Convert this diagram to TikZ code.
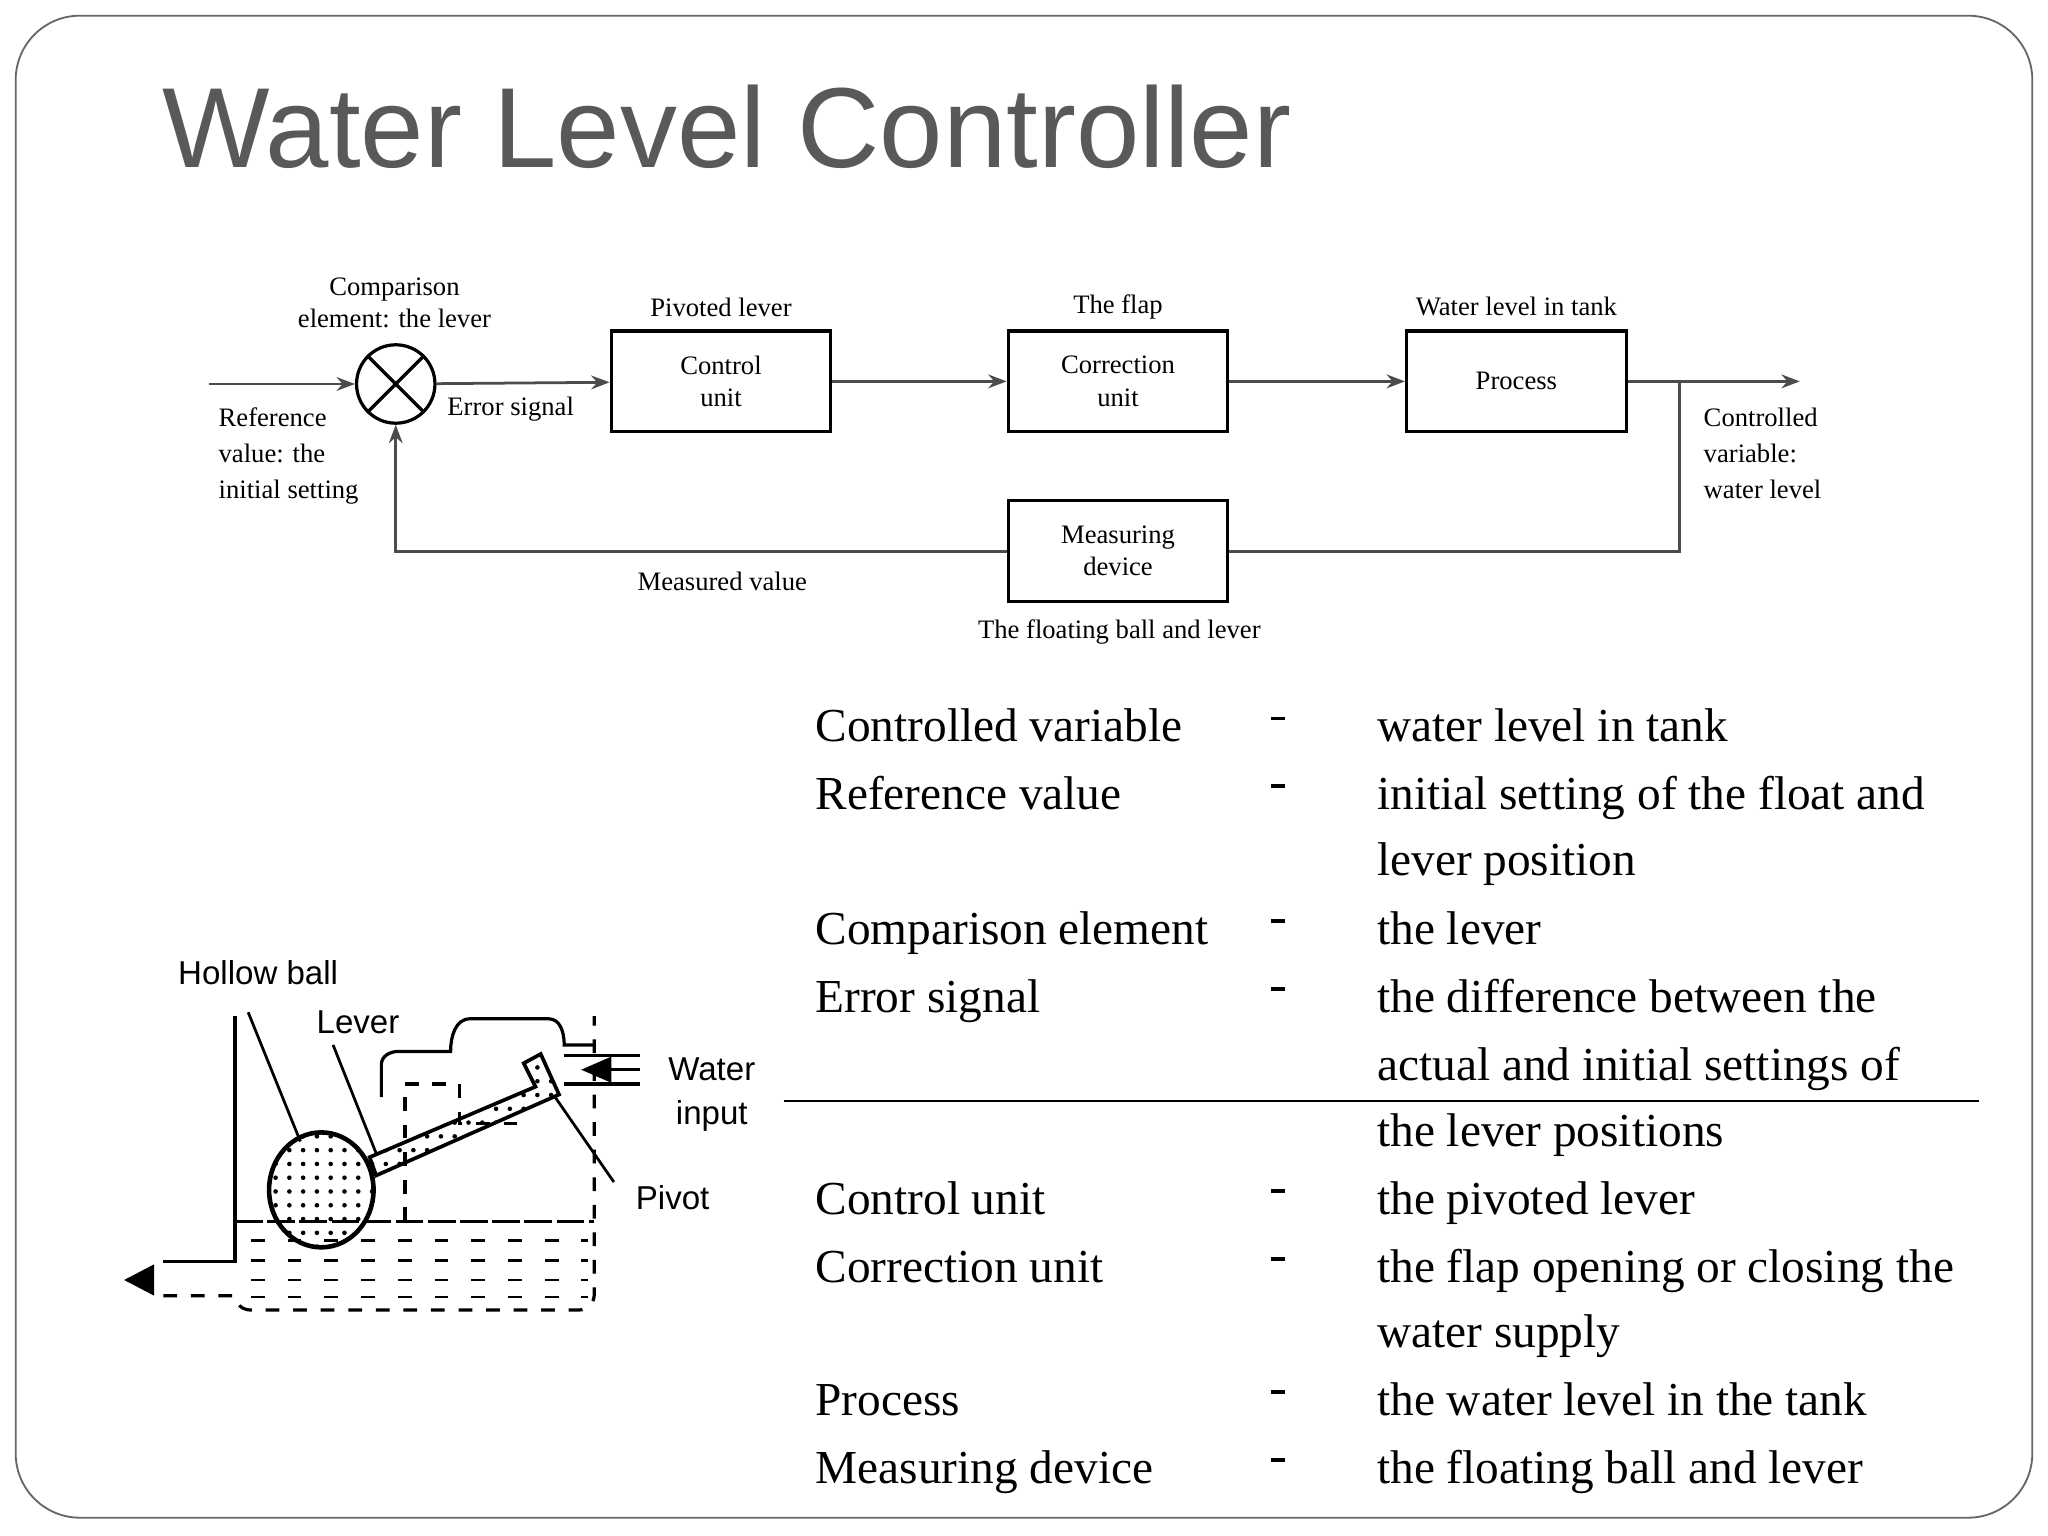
\documentclass[tikz,border=0pt]{standalone}
\usepackage{fontspec}
\setmainfont{Liberation Serif}
\newfontfamily\titlefont{Liberation Sans}
\usetikzlibrary{positioning,patterns,arrows.meta}
\tikzset{
  blk/.style={draw, line width=0.7pt, minimum width=1.68cm, minimum height=0.77cm, align=center, font=\fontsize{5.8}{7}\selectfont},
  lbl/.style={align=center, font=\fontsize{5.8}{7}\selectfont},
  lbll/.style={align=left, font=\fontsize{5.8}{7.8}\selectfont},
  sig/.style={-{Stealth[length=4pt]}, line width=0.6pt, black!70},
  tab/.style={anchor=base west, font=\fontsize{10.3}{12}\selectfont},
  app/.style={font=\titlefont\fontsize{7.2}{8.5}\selectfont},
}
\begin{document}
\begin{tikzpicture}[x=0.01cm,y=-0.01cm]
  \useasboundingbox (0,0) rectangle (1568,1176);
  \draw[black!60, rounded corners=14pt] (12,12) rectangle (1556,1162);
  \node[anchor=west, text=black!65, font=\titlefont\fontsize{24.8}{28}\selectfont] (title) at (112,97) {Water Level Controller};

  % block diagram
  \node[draw, circle, minimum size=0.6cm, line width=0.7pt, inner sep=0pt] (cmp) at (303,294) {};
  \draw[line width=0.7pt] (cmp.north west) -- (cmp.south east) (cmp.north east) -- (cmp.south west);
  \node[blk] (ctrl) at (552,292) {Control\\unit};
  \node[blk] (corr) at (856,292) {Correction\\unit};
  \node[blk] (proc) at (1161,292) {Process};
  \node[blk] (meas) at (856,422) {Measuring\\device};
  \coordinate (ref) at (160,294);
  \coordinate (out) at (1378,292);
  \coordinate (tap) at (1286,292);
  \draw[sig] (ref) -- (cmp);
  \draw[sig] (cmp) -- (ctrl);
  \draw[sig] (ctrl) -- (corr);
  \draw[sig] (corr) -- (proc);
  \draw[sig] (proc) -- (out);
  \draw[line width=0.6pt, black!70] (tap) |- (meas);
  \draw[sig] (meas) -| (cmp);
  \node[lbl] (lcmp) at (302,232) {Comparison\\element: the lever};
  \node[lbll, anchor=north west] (lref) at (155,300) {Reference\\value: the\\initial setting};
  \node[lbl] (lerr) at (391,313) {Error signal};
  \node[lbl] (lctrl) at (552,235) {Pivoted lever};
  \node[lbl] (lcorr) at (856,235) {The flap};
  \node[lbl] (lproc) at (1161,235) {Water level in tank};
  \node[lbll, anchor=north west] (lout) at (1292,300) {Controlled\\variable:\\water level};
  \node[lbl] (lmv) at (553,445) {Measured value};
  \node[lbl] (lmeas) at (857,484) {The floating ball and lever};

  % table
  \foreach \y/\a/\b in {558/Controlled variable/water level in tank,
      610/Reference value/initial setting of the float and,
      660//lever position,
      713/Comparison element/the lever,
      765/Error signal/the difference between the,
      817//actual and initial settings of,
      868//the lever positions,
      920/Control unit/the pivoted lever,
      972/Correction unit/the flap opening or closing the,
      1022//water supply,
      1074/Process/the water level in the tank,
      1126/Measuring device/the floating ball and lever}
  {
    \node[tab] at (612,\y+10) {\a};
    \node[tab] at (1042,\y+10) {\b};
  }
  \foreach \y in {558,610,713,765,920,972,1074,1126}
    \draw[line width=0.8pt] (973,\y-8) -- (984,\y-8);
  \draw[line width=0.6pt] (600,843) -- (1515,843);

  % float apparatus
  \draw[line width=0.7pt] (180,778) -- (180,966) -- (125,966);
  \draw[line width=0.7pt, dashed] (125,992) -- (180,992) to[out=-90,in=180] (192,1003) -- (443,1003) to[out=0,in=-90] (455,991) -- (455,778);
  \draw[line width=0.7pt, dash pattern=on 6pt off 1pt] (180,935) -- (455,935);
  \foreach \y in {950,965,980,993}
    \draw[line width=0.6pt, dash pattern=on 3pt off 5pt] (192,\y) -- (450,\y);
  \fill (95,980) -- (118,968) -- (118,992) -- cycle;
  \draw[line width=0.7pt] (292,840) -- (292,815) to[out=90,in=180] (305,805) -- (345,805) to[out=90,in=180] (360,780) -- (420,780) to[out=0,in=90] (432,800) -- (455,800);
  \draw[line width=0.7pt, dashed] (310,840) -- (310,935) (310,830) -- (352,830) -- (352,860) -- (405,860);
  \draw[line width=0.7pt] (432,808) -- (490,808) (432,830) -- (490,830);
  \fill (445,819) -- (468,809) -- (468,829) -- cycle;
  \draw[line width=0.7pt] (468,819) -- (490,819);
  \draw[line width=1pt, pattern=dots] (246,911) ellipse (40 and 44);
  \draw[line width=0.8pt, pattern=dots] (283,886) -- (410,832) -- (401,814) -- (414,807) -- (428,838) -- (288,900) -- cycle;
  \node[app, anchor=west] (hball) at (124,745) {Hollow ball};
  \node[app, anchor=west] (lever) at (230,783) {Lever};
  \node[app, align=center] (water) at (545,838) {Water\\[1pt]input};
  \node[app] (pivot) at (515,917) {Pivot};
  \draw[line width=0.6pt] (190,775) -- (230,874);
  \draw[line width=0.6pt] (255,800) -- (288,883);
  \draw[line width=0.6pt] (425,840) -- (470,905);
\end{tikzpicture}
\end{document}
